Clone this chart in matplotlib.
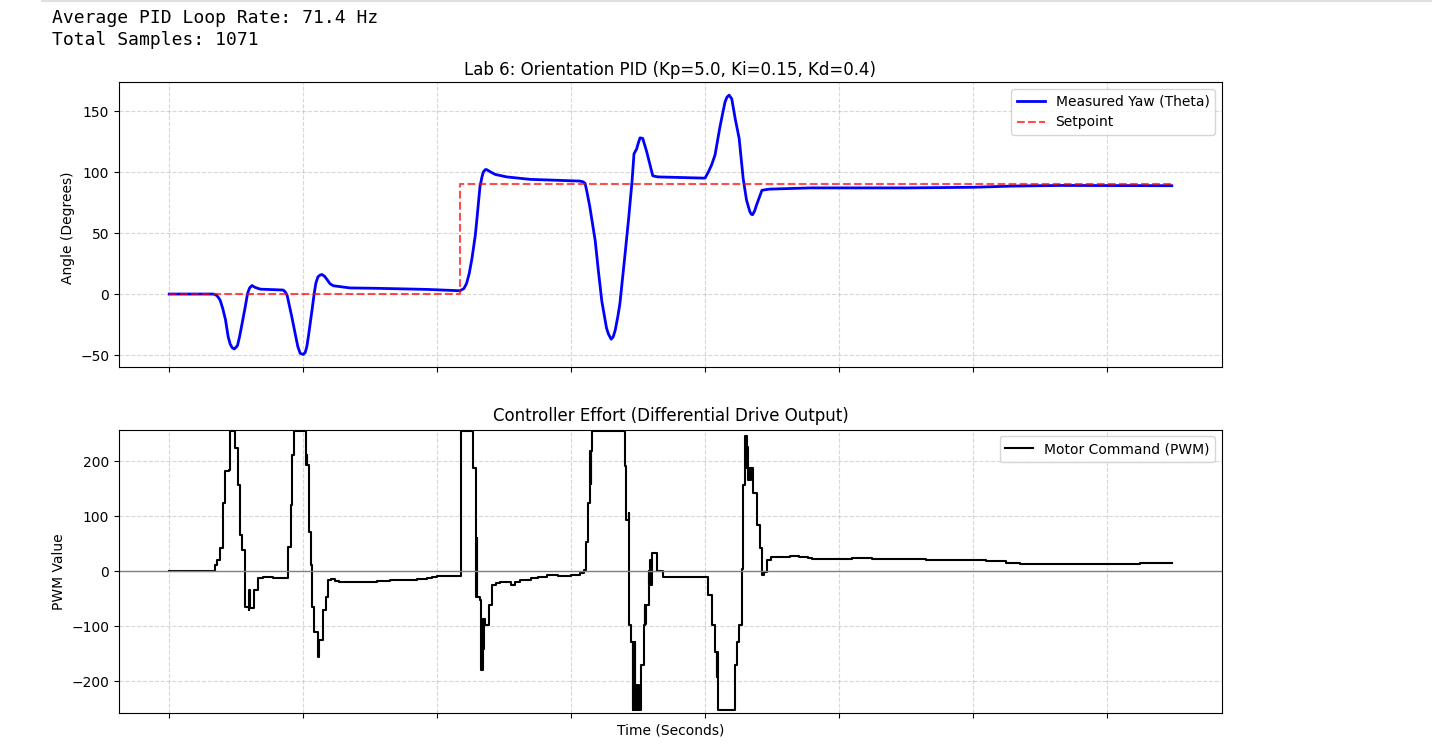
import matplotlib.pyplot as plt
from matplotlib.lines import Line2D

# values
yaw_time = [0, 0.66, 0.70, 0.73, 0.76, 0.80, 0.84, 0.88, 0.91, 0.94, 0.97, 1.0, 1.02, 1.05, 1.085, 1.13, 1.17, 1.20,
            1.235, 1.28, 1.36, 1.70, 1.73, 1.76, 1.80, 1.83, 1.89, 1.92, 1.955, 2.0, 2.03, 2.055, 2.08, 2.105,
            2.135, 2.165, 2.19, 2.22, 2.25, 2.28, 2.32, 2.355, 2.40, 2.45, 2.70, 3.10, 3.85, 4.34, 4.40, 4.44,
            4.48, 4.52, 4.57, 4.59, 4.64, 4.67, 4.69, 4.72, 4.74, 4.80, 4.87, 5.04, 5.39, 6.13, 6.18, 6.21,
            6.24, 6.28, 6.36, 6.41, 6.46, 6.53, 6.56, 6.60, 6.63, 6.66, 6.70, 6.73, 6.81, 6.86, 6.91, 6.94,
            6.98, 7.0, 7.03, 7.07, 7.13, 7.18, 7.22, 7.25, 7.30, 8.0, 8.05, 8.10, 8.15, 8.22, 8.26, 8.30,
            8.33, 8.36, 8.40, 8.45, 8.51, 8.57, 8.62, 8.67, 8.69, 8.71, 8.74, 8.77, 8.85, 8.90, 8.97, 9.57,
            11.0, 12.0, 12.6, 13.3, 14.97]
yaw = [0, 0, -0.8, -2.5, -5, -12, -21, -35, -41, -44, -45, -43.5, -42, -35, -25, -12, 0.5, 5,
       7, 5.5, 4, 3.3, 2, -1, -11, -18.6, -35, -43, -48.6, -49.5, -48, -43, -34, -24,
       -12, 0.5, 9, 14, 15.5, 16, 14.5, 12, 8.5, 6.8, 5, 4.7, 3.8, 2.7, 4.5, 8.7,
       17, 29, 48, 59, 88, 96, 100, 102, 102, 100, 98, 96, 94, 92.6, 92, 90.7,
       83, 71.6, 44, 18, -6, -28, -33, -37, -35, -29.5, -18, -7.6, 34.7, 62, 92, 115,
       119, 123, 128, 127.6, 116.6, 105.7, 97, 96.5, 96, 95, 100, 106, 114, 136, 147, 157.6,
       161.5, 163, 160, 144, 127.6, 94.8, 77, 67.5, 65.5, 65, 68, 73, 85, 85.5, 86, 87,
       87, 87.5, 88.5, 89, 88.8]

setpoint_time = [0, 4.34, 4.34, 14.97]
setpoint = [0, 0, 90, 90]

pwm_time = [0, 0.66, 0.68, 0.72, 0.76, 0.80, 0.81, 0.84, 0.89, 0.90, 0.97, 0.985, 1.02, 1.05, 1.085, 1.125,
            1.185, 1.195, 1.21, 1.24, 1.27, 1.32, 1.4, 1.55, 1.73, 1.77, 1.82, 1.84, 1.87, 2.03, 2.04, 2.05,
            2.06, 2.085, 2.115, 2.13, 2.165, 2.215, 2.22, 2.23, 2.245, 2.30, 2.34, 2.37, 2.42, 2.48, 2.54, 2.7,
            2.9, 3.10, 3.3, 3.5, 3.7, 3.85, 3.92, 4.0, 4.2, 4.36, 4.36, 4.53, 4.54, 4.58, 4.58, 4.59,
            4.59, 4.64, 4.66, 4.665, 4.67, 4.68, 4.69, 4.70, 4.72, 4.77, 4.82, 4.88, 4.94, 5.05, 5.11, 5.16,
            5.24, 5.4, 5.5, 5.64, 5.8, 6.0, 6.13, 6.19, 6.22, 6.26, 6.28, 6.285, 6.29, 6.295, 6.30, 6.32,
            6.79, 6.81, 6.815, 6.82, 6.825, 6.83, 6.86, 6.87, 6.90, 6.92, 6.93, 6.94, 6.95, 6.96, 6.97, 6.98,
            7.0, 7.02, 7.05, 7.09, 7.10, 7.11, 7.12, 7.16, 7.17, 7.18, 7.19, 7.21, 7.24, 7.28, 7.38, 8.0,
            8.04, 8.10, 8.15, 8.175, 8.18, 8.19, 8.20, 8.42, 8.45, 8.485, 8.51, 8.55, 8.57, 8.60, 8.62, 8.63,
            8.64, 8.66, 8.67, 8.69, 8.72, 8.77, 8.82, 8.85, 8.88, 8.92, 8.99, 9.1, 9.27, 9.4, 9.54, 9.6,
            9.9, 10.2, 10.5, 10.9, 11.3, 11.7, 12.0, 12.2, 12.5, 12.7, 13.0, 13.5, 14.0, 14.5, 14.97]
pwm = [0, 0, 11.5, 20, 43, 45, 124, 183, 184, 255, 255, 224, 157, 66, 39, -64,
       -71, -34, -66, -66, -34, -13, -11, -12, -11.5, 45, 121, 212, 255, 255, 194, 212,
       194, 72, 11, -64, -110, -115, -155, -125, -125, -70, -46, -16, -14, -17, -20, -19,
       -18.5, -17.5, -16, -15, -14, -12.8, -10, -8.5, -9, -8.5, 255, 255, 188, 60, -46, 60,
       -46, -52, -180, -86, -180, -86, -141, -86, -98, -61, -25, -21, -19, -20, -24, -19,
       -15, -12, -11, -7, -8, -6, -3.6, 2.4, 54, 124, 218, 158, 218, 158, 218, 255,
       255, 191, 93, 191, 93, 93, 107, -98, -128, -253, -128, -253, -128, -253, -207, -253,
       -207, -253, -171, -98, -61, -95, -61, 0, -25, 20, -25, 33, 33, 0, -10, -10,
       -43, -98, -146, -192, -146, -192, -253, -253, -171, -128, -98, 5, 157, 247, 188, 227,
       166, 188, 166, 188, 142, 84, 42, -7, -1, 21, 27, 26, 28.5, 27, 25, 22,
       23, 24, 23, 22, 21, 20, 20, 18, 16, 14, 13, 13, 14, 15, 14.5]

fig, (ax1, ax2) = plt.subplots(2, 1, figsize=(14.32, 7.5), dpi=100, sharex=True)
ax1.set_position([119 / 1432, 1 - 367 / 750, 1103 / 1432, 285 / 750])
ax2.set_position([119 / 1432, 1 - 713.2 / 750, 1103 / 1432, 283.7 / 750])

ax1.plot(yaw_time, yaw, color="b", lw=2, label="Measured Yaw (Theta)")
ax1.plot(setpoint_time, setpoint, "r--", alpha=0.7, lw=1.5, label="Setpoint")
ax1.set_title("Lab 6: Orientation PID (Kp=5.0, Ki=0.15, Kd=0.4)", x=0.5, pad=5)
ax1.set_ylabel("Angle (Degrees)", y=0.49)
ax1.set_ylim(-59.8, 173.8)
ax1.legend(loc="upper right")
ax1.grid(True, linestyle="--", alpha=0.5)

ax2.plot(pwm_time, pwm, color="k", lw=1.5, drawstyle="steps-post", label="Motor Command (PWM)")
ax2.axhline(0, color="gray", lw=1)
ax2.set_title("Controller Effort (Differential Drive Output)", pad=6.2)
ax2.set_ylabel("PWM Value")
ax2.set_xlabel("Time (Seconds)", labelpad=4)
ax2.set_ylim(-258, 258)
ax2.legend(loc="upper right")
ax2.grid(True, linestyle="--", alpha=0.5)

ax2.set_xlim(-0.75, 15.72)
ax2.set_xticks([0, 2, 4, 6, 8, 10, 12, 14])
ax1.tick_params(labelbottom=False)
ax2.tick_params(labelbottom=False)

# notebook output above the figure
fig.text(52 / 1432, 1 - 18 / 750, "Average PID Loop Rate: 71.4 Hz", family="DejaVu Sans Mono", fontsize=12.95, va="center")
fig.text(52 / 1432, 1 - 40 / 750, "Total Samples: 1071", family="DejaVu Sans Mono", fontsize=12.95, va="center")
fig.add_artist(Line2D([42 / 1432, 1], [1 - 1 / 750, 1 - 1 / 750], color="#e0e0e0", lw=1.5))

fig.savefig("out.png", dpi=100)
